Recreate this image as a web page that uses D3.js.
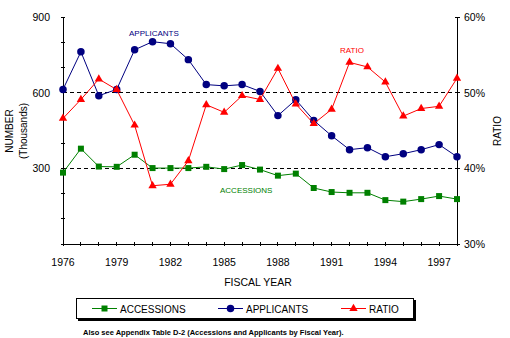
<!DOCTYPE html>
<html lang="en">
<head>
    <meta charset="UTF-8">
    <title>Accessions and Applicants</title>
    <style>
        body { margin: 0; background: #fff; }
        svg { display: block; font-family: Arial, "Liberation Sans", sans-serif; }
    </style>
</head>
<body>
    <div id="chart"></div>
    <script src="https://d3js.org/d3.v7.min.js"></script>
    <script>
        // Data (thousands, ratio in percent)
        var years = [1976, 1977, 1978, 1979, 1980, 1981, 1982, 1983, 1984, 1985, 1986, 1987,
                     1988, 1989, 1990, 1991, 1992, 1993, 1994, 1995, 1996, 1997, 1998];
        var accessions = [283, 378, 307, 306, 354, 301, 301, 301, 306, 297, 313, 295,
                          271, 279, 222, 206, 203, 203, 174, 168, 178, 190, 178];
        var applicants = [613, 762, 588, 613, 770, 802, 794, 731, 632, 627, 632, 605,
                          509, 572, 490, 429, 374, 382, 346, 358, 374, 394, 346];
        var ratio = [46.6, 49.1, 51.8, 50.4, 45.7, 37.7, 37.9, 41.0, 48.4, 47.4, 49.6, 49.1,
                     53.2, 48.5, 45.9, 47.8, 54.0, 53.4, 51.4, 46.9, 47.9, 48.2, 51.9];
        var yearLabels = [1976, 1979, 1982, 1985, 1988, 1991, 1994, 1997];
        var leftTicks = [300, 600, 900];
        var rightTicks = [30, 40, 50, 60];

        var width = 510;
        var height = 338;
        var green = "#008000", navy = "#000080", red = "#ff0000";

        var svg = d3.select("#chart")
                    .append("svg")
                    .attr("width", width)
                    .attr("height", height);

        var x = d3.scaleLinear().domain([1976, 1998]).range([63, 457]);
        var y = d3.scaleLinear().domain([0, 900]).range([244, 17]);
        var yr = d3.scaleLinear().domain([30, 60]).range([244, 17]);

        // dashed reference lines
        svg.selectAll("line.grid")
           .data([300, 600])
           .enter()
           .append("line")
           .attr("x1", x(1976)).attr("x2", x(1998))
           .attr("y1", function(d) { return y(d); })
           .attr("y2", function(d) { return y(d); })
           .attr("stroke", "#000")
           .attr("stroke-dasharray", "4,3")
           .attr("shape-rendering", "crispEdges");

        // axes
        var axisG = svg.append("g").attr("shape-rendering", "crispEdges").attr("stroke", "#000");
        axisG.append("line").attr("x1", x(1976)).attr("x2", x(1998)).attr("y1", y(0)).attr("y2", y(0));
        axisG.append("line").attr("x1", x(1976)).attr("x2", x(1976)).attr("y1", y(0)).attr("y2", y(900));
        axisG.append("line").attr("x1", x(1998)).attr("x2", x(1998)).attr("y1", y(0)).attr("y2", y(900));

        axisG.selectAll("line.xt")
             .data(years)
             .enter()
             .append("line")
             .attr("x1", function(d) { return x(d); })
             .attr("x2", function(d) { return x(d); })
             .attr("y1", y(0) - 2)
             .attr("y2", y(0) + 2);

        axisG.selectAll("line.yt")
             .data(d3.range(0, 901, 100))
             .enter()
             .append("line")
             .attr("x1", x(1976) - 2)
             .attr("x2", x(1976) + 2)
             .attr("y1", function(d) { return y(d); })
             .attr("y2", function(d) { return y(d); });

        axisG.selectAll("line.rt")
             .data(rightTicks)
             .enter()
             .append("line")
             .attr("x1", x(1998) - 2)
             .attr("x2", x(1998) + 3)
             .attr("y1", function(d) { return yr(d); })
             .attr("y2", function(d) { return yr(d); });

        // tick labels
        svg.selectAll("text.xl")
           .data(yearLabels)
           .enter()
           .append("text")
           .attr("x", function(d) { return x(d); })
           .attr("y", 266)
           .attr("text-anchor", "middle")
           .attr("font-size", "10.5px")
           .text(function(d) { return d; });

        svg.selectAll("text.yl")
           .data(leftTicks)
           .enter()
           .append("text")
           .attr("x", 50)
           .attr("y", function(d) { return y(d) + 4; })
           .attr("text-anchor", "end")
           .attr("font-size", "10.5px")
           .text(function(d) { return d; });

        svg.selectAll("text.rl")
           .data(rightTicks)
           .enter()
           .append("text")
           .attr("x", 464)
           .attr("y", function(d) { return yr(d) + 4; })
           .attr("font-size", "10.5px")
           .text(function(d) { return d + "%"; });

        // axis titles
        svg.append("text")
           .attr("transform", "translate(13,131) rotate(-90)")
           .attr("text-anchor", "middle")
           .attr("font-size", "10px")
           .text("NUMBER");
        svg.append("text")
           .attr("transform", "translate(27,131) rotate(-90)")
           .attr("text-anchor", "middle")
           .attr("font-size", "10px")
           .text("(Thousands)");
        svg.append("text")
           .attr("transform", "translate(501,131) rotate(-90)")
           .attr("text-anchor", "middle")
           .attr("font-size", "10px")
           .text("RATIO");
        svg.append("text")
           .attr("x", 258)
           .attr("y", 286)
           .attr("text-anchor", "middle")
           .attr("font-size", "10.5px")
           .text("FISCAL YEAR");

        // series
        var series = [
            { name: "ACCESSIONS", values: accessions, scale: y, color: green, symbol: d3.symbolSquare, size: 36 },
            { name: "APPLICANTS", values: applicants, scale: y, color: navy, symbol: d3.symbolCircle, size: 44 },
            { name: "RATIO", values: ratio, scale: yr, color: red, symbol: d3.symbolTriangle, size: 30 }
        ];

        series.forEach(function(s) {
            var line = d3.line()
                         .x(function(d, i) { return x(years[i]); })
                         .y(function(d) { return s.scale(d); });
            svg.append("path")
               .datum(s.values)
               .attr("d", line)
               .attr("fill", "none")
               .attr("stroke", s.color)
               .attr("stroke-width", 1);
            svg.selectAll(null)
               .data(s.values)
               .enter()
               .append("path")
               .attr("d", d3.symbol().type(s.symbol).size(s.size))
               .attr("transform", function(d, i) { return "translate(" + x(years[i]) + "," + s.scale(d) + ")"; })
               .attr("fill", s.color);
        });

        // in-plot labels
        svg.append("text").attr("x", 129).attr("y", 36).attr("font-size", "8px").attr("fill", navy).text("APPLICANTS");
        svg.append("text").attr("x", 340).attr("y", 53).attr("font-size", "8px").attr("fill", red).text("RATIO");
        svg.append("text").attr("x", 220).attr("y", 193).attr("font-size", "8px").attr("fill", green).text("ACCESSIONS");

        // legend box with shadow
        svg.append("rect").attr("x", 78).attr("y", 300).attr("width", 338).attr("height", 21).attr("fill", "#000");
        svg.append("rect").attr("x", 76.5).attr("y", 298.5).attr("width", 337).attr("height", 20)
           .attr("fill", "#fff").attr("stroke", "#000");

        var legendX = [92, 218, 341];
        series.forEach(function(s, i) {
            var lx = legendX[i];
            svg.append("line").attr("x1", lx).attr("x2", lx + 25).attr("y1", 308.5).attr("y2", 308.5)
               .attr("stroke", s.color);
            svg.append("path")
               .attr("d", d3.symbol().type(s.symbol).size(s.size))
               .attr("transform", "translate(" + (lx + 12.5) + ",308.5)")
               .attr("fill", s.color);
            svg.append("text").attr("x", lx + 28).attr("y", 312.5).attr("font-size", "10px").text(s.name);
        });

        // footnote
        svg.append("text")
           .attr("x", 83)
           .attr("y", 335)
           .attr("font-size", "7.5px")
           .attr("font-weight", "bold")
           .text("Also see Appendix Table D-2 (Accessions and Applicants by Fiscal Year).");
    </script>
</body>
</html>
